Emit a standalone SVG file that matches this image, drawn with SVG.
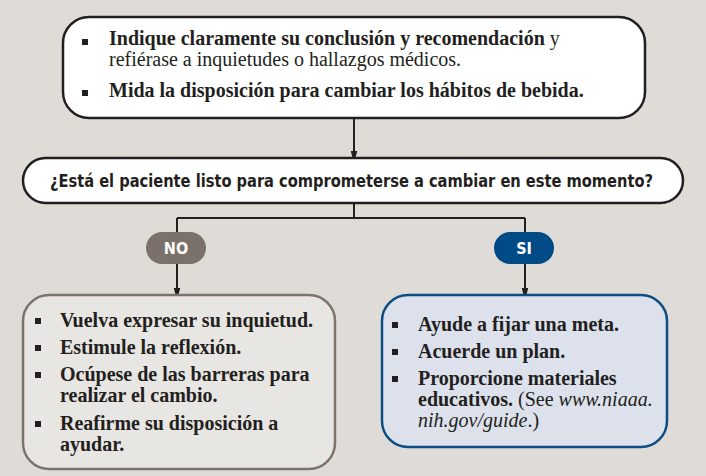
<svg xmlns="http://www.w3.org/2000/svg" width="706" height="476" viewBox="0 0 706 476">
<style>
.bg{fill:#dfdcd7}
.box{fill:#ffffff;stroke:#231f20;stroke-width:2.5}
.no-box{fill:#e8e6e2;stroke:#7d736c;stroke-width:2.5}
.si-box{fill:#dce1ec;stroke:#0d4d86;stroke-width:2.5}
.conn{fill:none;stroke:#231f20;stroke-width:2}
.serif{font-family:"Liberation Serif","Times New Roman",serif;fill:#231f20}
.b{font-weight:bold}
.i{font-style:italic}
.cond{font-family:"Liberation Sans Narrow","DejaVu Sans Condensed","Liberation Sans",sans-serif;font-weight:bold;fill:#231f20}
.pill-t{font-family:"DejaVu Sans Condensed","Liberation Sans Narrow","Liberation Sans",sans-serif;font-weight:bold;fill:#ffffff;font-size:16px}
.bullet{fill:#231f20}
</style>
<defs>
<marker id="arr" markerUnits="userSpaceOnUse" markerWidth="12" markerHeight="22" refX="11" refY="6" orient="auto" viewBox="0 0 22 12">
<path d="M0,0 L22,6 L0,12 Z" fill="#231f20"/>
</marker>
</defs>
<rect class="bg" x="0" y="0" width="706" height="476"/>

<g id="connectors">
<path class="conn" d="M354,118 V157" marker-end="url(#arr)"/>
<path class="conn" d="M354,203 V218 M177,218 H525 M177,218 V232 M525,218 V232"/>
<path class="conn" d="M177,264 V294" marker-end="url(#arr)"/>
<path class="conn" d="M525,264 V294" marker-end="url(#arr)"/>
</g>

<g id="top-box">
<rect class="box" x="63" y="17" width="582" height="101" rx="26"/>
<rect class="bullet" x="82" y="39" width="6" height="6"/>
<text class="serif" x="109" y="45" font-size="20"><tspan class="b">Indique claramente su conclusión y recomendación</tspan> y</text>
<text class="serif" x="109" y="66" font-size="20">refiérase a inquietudes o hallazgos médicos.</text>
<rect class="bullet" x="82" y="90" width="6" height="6"/>
<text class="serif b" x="109" y="97" font-size="20">Mida la disposición para cambiar los hábitos de bebida.</text>
</g>

<g id="question">
<rect class="box" x="23" y="158" width="660" height="45" rx="22.5"/>
<text class="cond" x="50" y="187" font-size="18" textLength="603" lengthAdjust="spacingAndGlyphs">¿Está el paciente listo para comprometerse a cambiar en este momento?</text>
</g>

<g id="no-pill">
<rect x="146" y="232" width="60" height="32" rx="16" fill="#7b716b"/>
<text class="pill-t" x="176" y="254" text-anchor="middle">NO</text>
</g>

<g id="si-pill">
<rect x="494" y="232" width="60" height="32" rx="16" fill="#004a85"/>
<text class="pill-t" x="524" y="254" text-anchor="middle">SI</text>
</g>

<g id="no-box">
<rect class="no-box" x="23" y="295" width="312" height="174" rx="26"/>
<g class="serif b" font-size="20">
<rect class="bullet" x="35" y="318" width="6" height="6"/>
<text x="60" y="327">Vuelva expresar su inquietud.</text>
<rect class="bullet" x="35" y="345" width="6" height="6"/>
<text x="60" y="354">Estimule la reflexión.</text>
<rect class="bullet" x="35" y="372" width="6" height="6"/>
<text x="60" y="381">Ocúpese de las barreras para</text>
<text x="60" y="402">realizar el cambio.</text>
<rect class="bullet" x="35" y="421" width="6" height="6"/>
<text x="60" y="430">Reafirme su disposición a</text>
<text x="60" y="451">ayudar.</text>
</g>
</g>

<g id="si-box">
<rect class="si-box" x="382" y="295" width="285" height="152" rx="26"/>
<g class="serif" font-size="20">
<rect class="bullet" x="392" y="322" width="6" height="6"/>
<text class="b" x="418" y="331">Ayude a fijar una meta.</text>
<rect class="bullet" x="392" y="349" width="6" height="6"/>
<text class="b" x="418" y="358">Acuerde un plan.</text>
<rect class="bullet" x="392" y="376" width="6" height="6"/>
<text class="b" x="418" y="385">Proporcione materiales</text>
<text x="418" y="406"><tspan class="b">educativos.</tspan> (See <tspan class="i">www.niaaa.</tspan></text>
<text x="418" y="427"><tspan class="i">nih.gov/guide</tspan>.)</text>
</g>
</g>
</svg>
